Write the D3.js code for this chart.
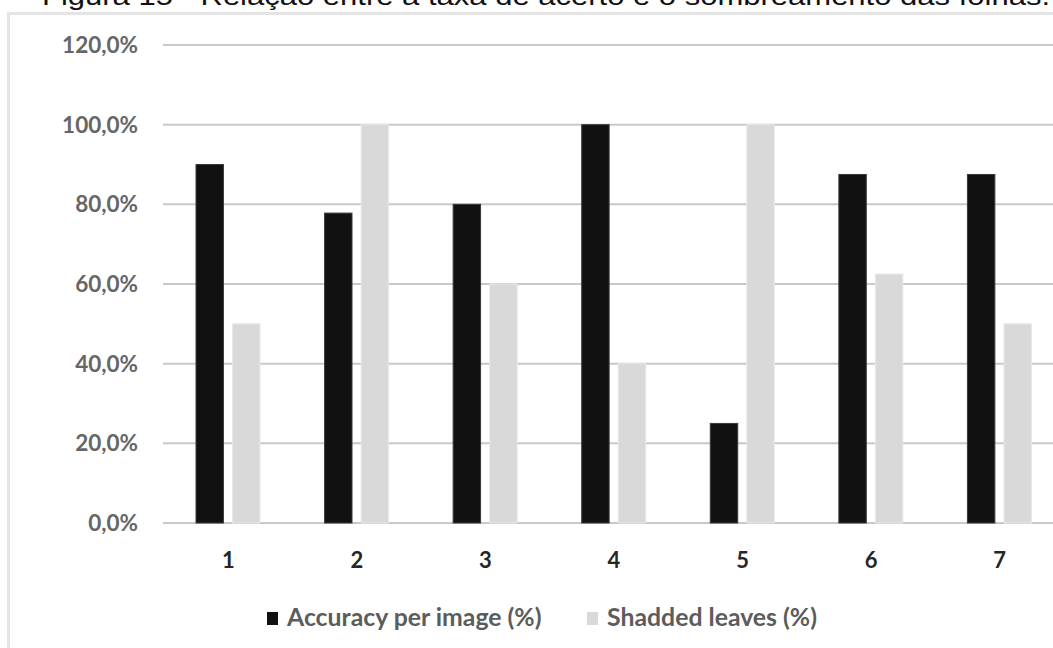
<!DOCTYPE html>
<html>
<head>
<meta charset="utf-8">
<style>
  body { margin: 0; background: #fff; }
  svg { display: block; }
  .tick-y { font-family: Lato, "Liberation Sans", sans-serif; font-weight: bold; font-size: 22.5px; fill: #666666; }
  .tick-x { font-family: Lato, "Liberation Sans", sans-serif; font-weight: bold; font-size: 22px; fill: #262626; }
  .legend { font-family: Lato, "Liberation Sans", sans-serif; font-weight: bold; font-size: 24.8px; fill: #5c5c5c; }
</style>
<script src="https://cdn.jsdelivr.net/npm/d3@7"></script>
</head>
<body>
<svg id="chart"></svg>
<script>
// data
const categories = ['1', '2', '3', '4', '5', '6', '7']
const accuracy = [90, 77.8, 80, 100, 25, 87.5, 87.5]
const shaded = [50, 100, 60, 40, 100, 62.5, 50]
const yTicks = [0, 20, 40, 60, 80, 100, 120]
const seriesNames = ['Accuracy per image (%)', 'Shadded leaves (%)']
const titleText = 'Figura 15 - Relação entre a taxa de acerto e o sombreamento das folhas.'

const width = 1053, height = 648
const colors = ['#111111', '#d9d9d9']

const svg = d3.select('#chart')
  .attr('width', width)
  .attr('height', height)

// title, clipped by the top edge as in the scan
svg.append('text')
  .attr('x', 42)
  .attr('y', 5)
  .attr('textLength', 1008)
  .attr('lengthAdjust', 'spacingAndGlyphs')
  .style('font-family', 'Liberation Sans, Arial, sans-serif')
  .style('font-size', '25px')
  .style('fill', '#111')
  .text(titleText)

// chart frame (left + top edges visible)
svg.append('path')
  .attr('d', 'M8.5,' + height + ' V13.5 H' + width)
  .attr('fill', 'none')
  .attr('stroke', '#e4e4e4')
  .attr('stroke-width', 3)

const x = d3.scaleBand()
  .domain(categories)
  .range([163, 1063])

const xs = d3.scaleBand()
  .domain([0, 1])
  .range([33, 97])
  .paddingInner(0.25)

const y = d3.scaleLinear()
  .domain([0, 120])
  .range([523, 45])

// gridlines
svg.append('g')
  .selectAll('line')
  .data(yTicks)
  .enter()
  .append('line')
  .attr('x1', 163)
  .attr('x2', width)
  .attr('y1', d => y(d))
  .attr('y2', d => y(d))
  .attr('stroke', '#c8c8c8')
  .attr('stroke-width', 2)

// y tick labels
svg.append('g')
  .selectAll('text')
  .data(yTicks)
  .enter()
  .append('text')
  .attr('class', 'tick-y')
  .attr('x', 138)
  .attr('y', d => y(d))
  .attr('dy', '0.35em')
  .attr('text-anchor', 'end')
  .text(d => d3.format('.1f')(d).replace('.', ',') + '%')

// bars
const series = [accuracy, shaded]
series.forEach(function(values, s) {
  svg.append('g')
    .selectAll('rect')
    .data(values)
    .enter()
    .append('rect')
    .attr('x', (d, i) => x(categories[i]) + xs(s))
    .attr('width', xs.bandwidth())
    .attr('y', d => y(d))
    .attr('height', d => y(0) - y(d))
    .attr('fill', colors[s])
    .attr('stroke', s === 0 ? '#3a3a3a' : '#e8e8e8')
    .attr('stroke-width', 1)
})

// x labels
svg.append('g')
  .selectAll('text')
  .data(categories)
  .enter()
  .append('text')
  .attr('class', 'tick-x')
  .attr('x', d => x(d) + x.bandwidth() / 2 + 1)
  .attr('y', 560)
  .attr('dy', '0.35em')
  .attr('text-anchor', 'middle')
  .text(d => d)

// legend
const legendX = [267, 587]
seriesNames.forEach(function(name, s) {
  svg.append('rect')
    .attr('x', legendX[s])
    .attr('y', 612)
    .attr('width', 11)
    .attr('height', 13)
    .attr('fill', colors[s])
  svg.append('text')
    .attr('class', 'legend')
    .attr('x', legendX[s] + 20)
    .attr('y', 626)
    .text(name)
})
</script>
</body>
</html>
